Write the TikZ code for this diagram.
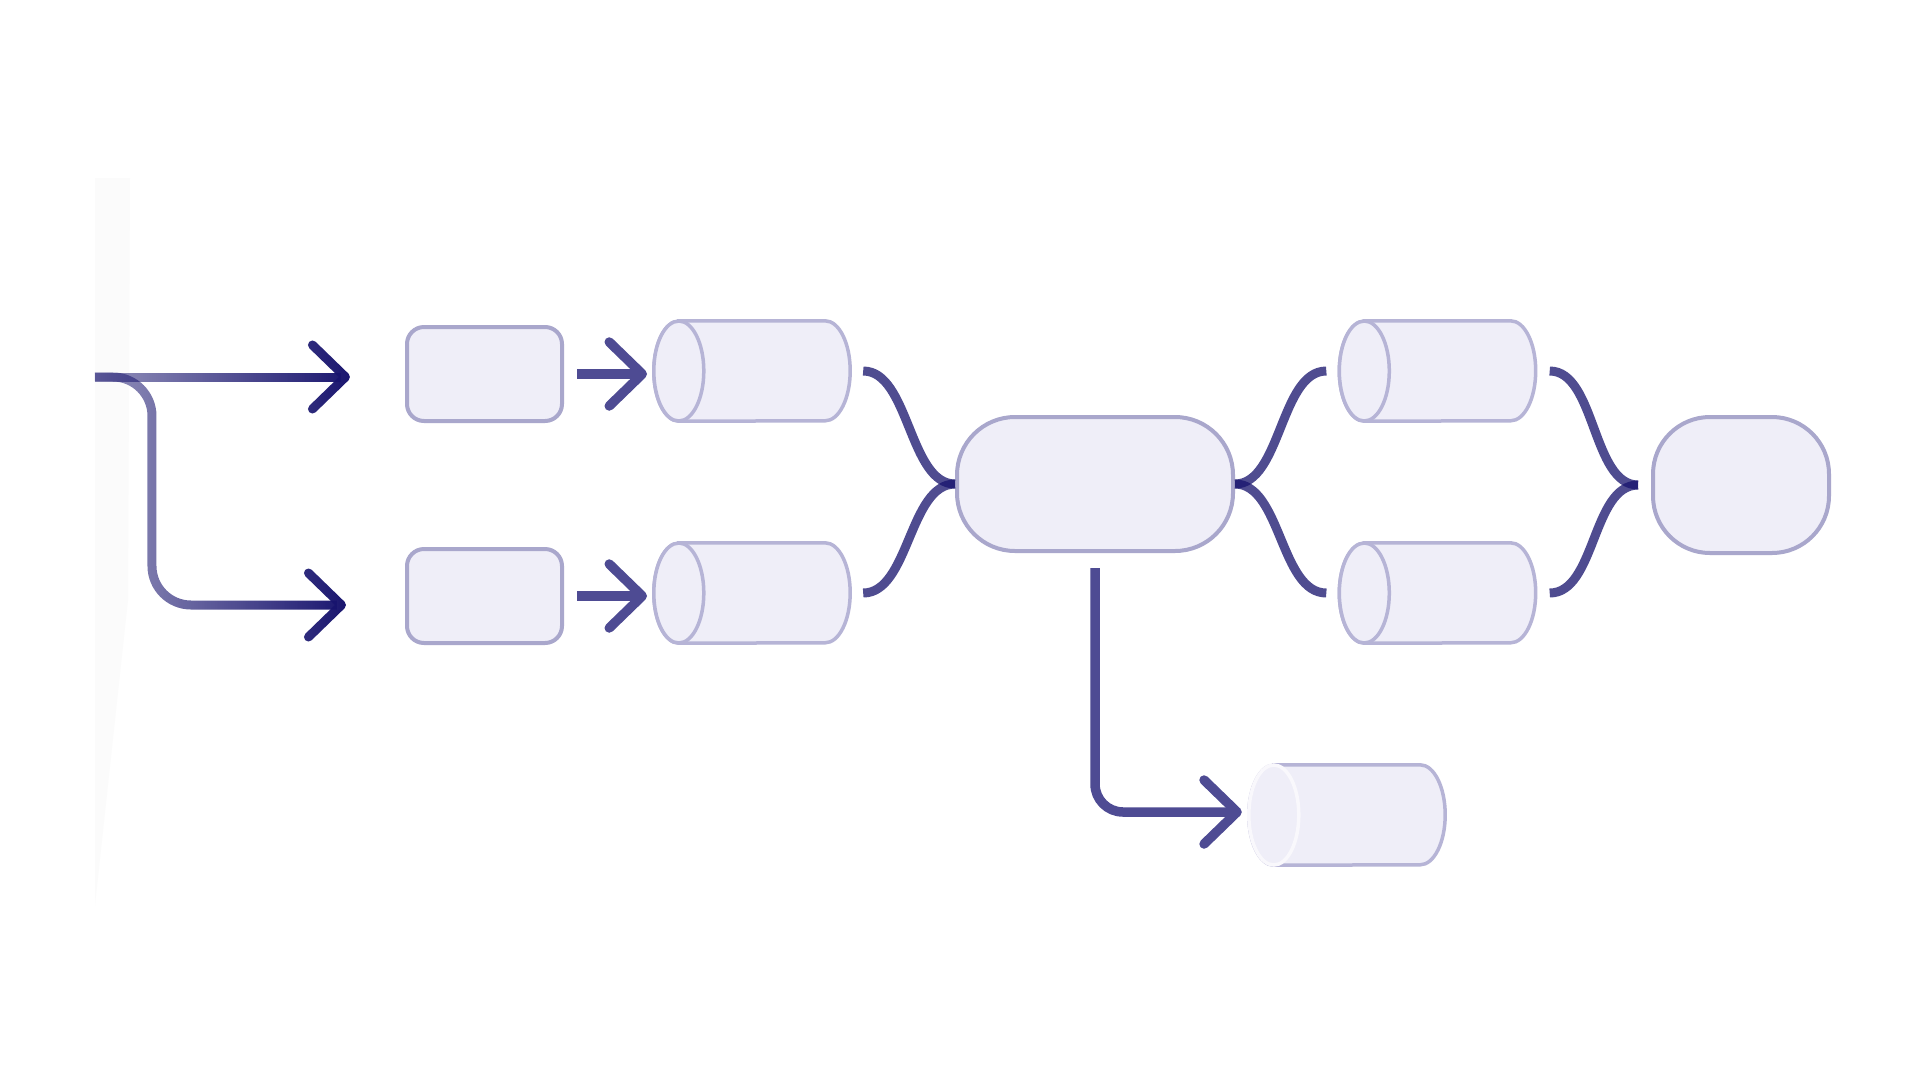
\documentclass[tikz,border=0pt]{standalone}
\usepackage[dvipsnames,svgnames]{xcolor}
\usepackage[]{tikz}
\usetikzlibrary{positioning}
\usetikzlibrary{arrows.meta}
\usetikzlibrary{fadings}
\definecolor{boxfill}{HTML}{EFEEF8}
\definecolor{boxline}{HTML}{A9A7CC}
\definecolor{cylline}{HTML}{B6B4D6}
\definecolor{inknavy}{HTML}{18146E}
\definecolor{wireink}{HTML}{4E4B93}
\tikzfading[name=inkfade,left color=transparent!55,right color=transparent!0]
\tikzset{card/.style={draw=boxline,fill=boxfill,line width=4pt,rounded corners=17pt,minimum width=155pt,minimum height=94pt,inner sep=0pt},
  pill/.style={card,rounded corners=58pt,minimum width=276pt,minimum height=134pt},
  drumspot/.style={minimum width=196pt,minimum height=100pt,inner sep=0pt},
  drumline/.style={draw=cylline,fill=boxfill,line width=3.5pt},
  pointer/.style={-{Straight Barb[length=33pt,width=64pt,round]}},
  wire/.style={draw=wireink,line width=9.5pt},
  curvewire/.style={draw=inknavy,draw opacity=0.76,line width=9pt},
  fadeline/.style={draw=inknavy,line width=9pt,path fading=inkfade}}
% a lying drum: name, x, y; optional colour of its end face
\newcommand{\drumat}[4][cylline]{%
  \node[drumspot] (#2) at (#3,#4) {};
  \draw[drumline] ([xshift=25pt]#2.north west) -- ([xshift=-25pt]#2.north east)
    arc[start angle=90,end angle=-90,x radius=25pt,y radius=50pt]
    -- ([xshift=25pt]#2.south west)
    arc[start angle=270,end angle=90,x radius=25pt,y radius=50pt] -- cycle;
  \draw[drumline,draw=#1] ([xshift=25pt]#2.west) ellipse [x radius=25pt,y radius=50pt];}

\begin{document}
\begin{tikzpicture}[x=1pt,y=-1pt]
            \fill[white] (0,0) rectangle (1920,1080);
            \useasboundingbox (0,0) rectangle (1920,1080);
            \fill[black!1.5] (95,178) -- (130,178) -- (128,600) -- (95,905) -- cycle;
            % sources and stores
            \node[card] (boxA) at (484.5,374) {};
            \node[card] (boxB) at (484.5,596) {};
            \drumat{cylA}{752}{371}
            \drumat{cylB}{752}{593}
            \node[pill] (hub) at (1095,484) {};
            \drumat{cylC}{1437.5}{371}
            \drumat{cylD}{1437.5}{593}
            \node[pill,minimum width=176pt,minimum height=136pt,rounded corners=57pt] (sink) at (1741,485) {};
            \drumat[white!60!boxfill]{cylE}{1347}{815}
            \coordinate (src) at (95,377);
            % input split
            \draw[fadeline,pointer] (src) ++(0,-40) ++(0,80) (src) -- ([xshift=-55pt]src -| boxA.west);
            \draw[fadeline,pointer,rounded corners=39pt] (src) -- ++(57,0) |- ([xshift=-59pt,yshift=-9pt]boxB.west);
            \draw[wire,pointer] ([xshift=13pt]boxA.east) -- ++(70,0);
            \draw[wire,pointer] ([xshift=13pt]boxB.east) -- ++(70,0);
            % merge and split
            \draw[curvewire] ([xshift=13pt]cylA.east) .. controls +(46,0) and +(-46,0) .. (hub.west);
            \draw[curvewire] ([xshift=13pt]cylB.east) .. controls +(46,0) and +(-46,0) .. (hub.west);
            \draw[curvewire] (hub.east) .. controls +(46,0) and +(-46,0) .. ([xshift=-13pt]cylC.west);
            \draw[curvewire] (hub.east) .. controls +(46,0) and +(-46,0) .. ([xshift=-13pt]cylD.west);
            \draw[curvewire] ([xshift=14pt]cylC.east) .. controls +(46,0) and +(-46,0) .. ([xshift=-13pt]sink.west);
            \draw[curvewire] ([xshift=14pt]cylD.east) .. controls +(46,0) and +(-46,0) .. ([xshift=-13pt]sink.west);
            \draw[wire,pointer,rounded corners=28pt] ([yshift=-15pt]hub.south) |- ([xshift=-7pt,yshift=3pt]cylE.west);
        \end{tikzpicture}
\end{document}
